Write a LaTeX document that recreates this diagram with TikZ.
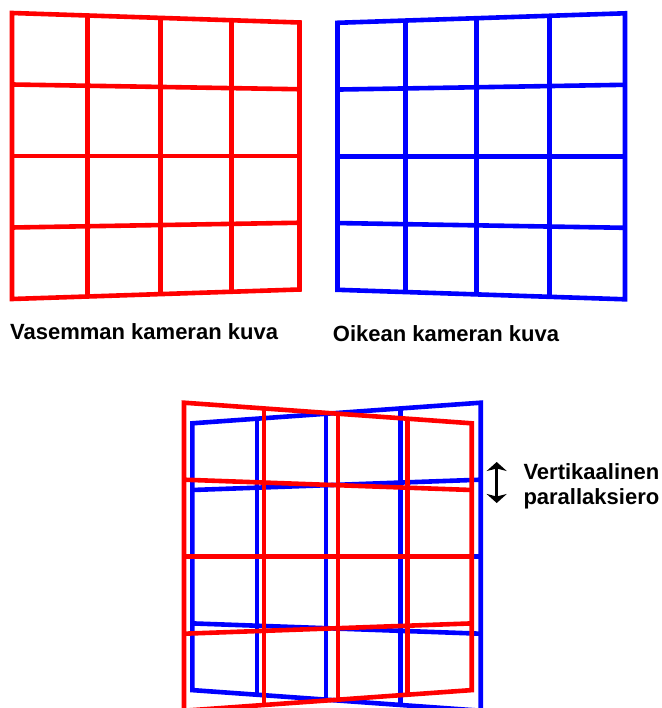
\documentclass[tikz,border=0pt]{standalone}
\usepackage{fontspec}
\setmainfont{Liberation Sans}
\usetikzlibrary{arrows.meta}
\definecolor{gridred}{RGB}{255,0,0}
\definecolor{gridblue}{RGB}{0,0,255}
\tikzset{
  gridline/.style={line width=4.6pt, line join=miter},
  caption/.style={anchor=base west, inner sep=0pt, font=\fontsize{22}{24}\selectfont\bfseries},
  sidenote/.style={anchor=base west, inner sep=0pt, align=left, font=\fontsize{22}{25}\selectfont\bfseries},
  paraarrow/.style={line width=3.2pt, {Stealth[length=9pt,width=20pt,inset=2.5pt]}-{Stealth[length=9pt,width=20pt,inset=2.5pt]}}
}
% #1 colour, #2 left x, #3 right x, #4 centre y, #5 left half height, #6 right half height, #7-#9 positions of inner verticals
\newcommand\perspgrid[9]{%
  \draw[gridline,#1] (#2,{#4-#5}) -- (#3,{#4-#6}) -- (#3,{#4+#6}) -- (#2,{#4+#5}) -- cycle;
  \foreach \t in {#7,#8,#9}{
    \draw[gridline,#1] ({#2+\t*(#3-#2)},{#4-#5-\t*(#6-#5)}) -- ({#2+\t*(#3-#2)},{#4+#5+\t*(#6-#5)});
  }
  \foreach \j in {-0.5,0,0.5}{
    \draw[gridline,#1] (#2,{#4+\j*#5}) -- (#3,{#4+\j*#6});
  }
}
\begin{document}
\begin{tikzpicture}[x=1pt,y=-1pt]
\useasboundingbox (0,0) rectangle (661,708);
\clip (0,0) rectangle (661,708);
% left camera image
\perspgrid{gridred}{12}{299.5}{156}{143}{133.5}{0.2631}{0.5171}{0.7627}
% right camera image
\perspgrid{gridblue}{337.5}{625}{156.3}{133.5}{143}{0.2373}{0.4829}{0.7369}
% overlay
\perspgrid{gridblue}{192.3}{480.7}{556.7}{133.4}{154}{0.2241}{0.4642}{0.7221}
\perspgrid{gridred}{184}{471.7}{556.7}{154}{133.4}{0.2779}{0.5358}{0.7759}
% captions
\node[caption] (leftcap) at (10,339.5) {Vasemman kameran kuva};
\node[caption] (rightcap) at (332.7,341.5) {Oikean kameran kuva};
% vertical parallax
\coordinate (atop) at (496.7,462);
\coordinate (abot) at (496.7,503);
\draw[paraarrow] (atop) -- (abot);
\node[sidenote] (paralabel) at (523.3,504.5) {Vertikaalinen\\parallaksiero};
\end{tikzpicture}
\end{document}
